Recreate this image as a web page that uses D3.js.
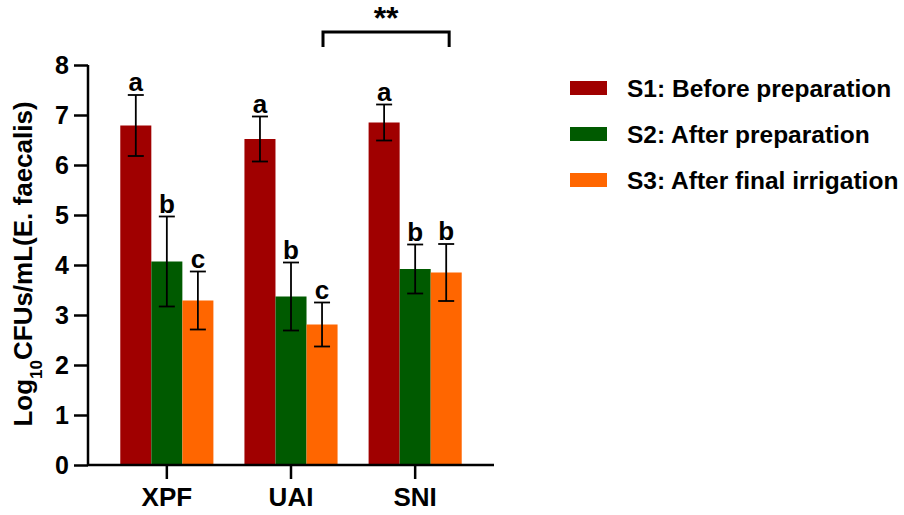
<!DOCTYPE html>
<html>
<head>
<meta charset="UTF-8">
<script src="https://d3js.org/d3.v7.min.js"></script>
<style>
  body { margin: 0; background: #fff; }
  text { font-family: "Liberation Sans", Arial, sans-serif; font-weight: bold; fill: #000; }
</style>
</head>
<body>
<svg id="chart" width="904" height="515"></svg>
<script>
// groups and series
const groups = ["XPF", "UAI", "SNI"];
const series = ["S1: Before preparation", "S2: After preparation", "S3: After final irrigation"];
const colors = ["#a00000", "#005a00", "#ff6600"];

// means and error (SD) per series, in group order
const s1Mean = [6.79, 6.52, 6.85];
const s2Mean = [4.07, 3.37, 3.92];
const s3Mean = [3.29, 2.81, 3.85];
const s1Err = [0.61, 0.45, 0.36];
const s2Err = [0.90, 0.68, 0.49];
const s3Err = [0.58, 0.44, 0.57];

// significance letters
const s1Letters = ["a", "a", "a"];
const s2Letters = ["b", "b", "b"];
const s3Letters = ["c", "c", "b"];

const yTicks = [0, 1, 2, 3, 4, 5, 6, 7, 8];

const means = [s1Mean, s2Mean, s3Mean];
const errs = [s1Err, s2Err, s3Err];
const letters = [s1Letters, s2Letters, s3Letters];

const data = [];
groups.forEach((g, gi) => {
    series.forEach((s, si) => {
        data.push({ group: g, series: s, idx: si, mean: means[si][gi], err: errs[si][gi], letter: letters[si][gi] });
    });
});

const svg = d3.select("#chart");

// scales
const y = d3.scaleLinear().domain([0, 8]).range([465, 65]);
const x0 = d3.scaleBand().domain(groups).range([88, 494]).paddingInner(0.25).paddingOuter(0.26);
const x1 = d3.scaleBand().domain(series).range([0, x0.bandwidth()]);
const color = d3.scaleOrdinal().domain(series).range(colors);

// bars
svg.append("g").selectAll("rect")
    .data(data)
    .join("rect")
    .attr("x", d => x0(d.group) + x1(d.series))
    .attr("y", d => y(d.mean))
    .attr("width", x1.bandwidth())
    .attr("height", d => y(0) - y(d.mean))
    .attr("fill", d => color(d.series));

// error bars
const eb = svg.append("g").attr("stroke", "#000").attr("stroke-width", 1.8);
const cx = d => x0(d.group) + x1(d.series) + x1.bandwidth() / 2;
eb.selectAll("line.v").data(data).join("line")
    .attr("class", "v")
    .attr("x1", cx).attr("x2", cx)
    .attr("y1", d => y(d.mean + d.err)).attr("y2", d => y(d.mean - d.err));
eb.selectAll("line.t").data(data).join("line")
    .attr("class", "t")
    .attr("x1", d => cx(d) - 8).attr("x2", d => cx(d) + 8)
    .attr("y1", d => y(d.mean + d.err)).attr("y2", d => y(d.mean + d.err));
eb.selectAll("line.b").data(data).join("line")
    .attr("class", "b")
    .attr("x1", d => cx(d) - 8).attr("x2", d => cx(d) + 8)
    .attr("y1", d => y(d.mean - d.err)).attr("y2", d => y(d.mean - d.err));

// letters
svg.append("g").selectAll("text")
    .data(data)
    .join("text")
    .attr("x", cx)
    .attr("y", d => y(d.mean + d.err) - 4)
    .attr("text-anchor", "middle")
    .style("font-size", "26px")
    .text(d => d.letter);

// axes
const yAxis = svg.append("g")
    .attr("transform", "translate(88,0)")
    .call(d3.axisLeft(y).tickValues(yTicks).tickSize(14).tickPadding(5));
const xAxis = svg.append("g")
    .attr("transform", "translate(0,465)")
    .call(d3.axisBottom(x0).tickSize(14).tickPadding(9));
[yAxis, xAxis].forEach(a => {
    a.select(".domain").attr("stroke", "#000").attr("stroke-width", 2.5);
    a.selectAll(".tick line").attr("stroke", "#000").attr("stroke-width", 2.5);
    a.selectAll(".tick text").style("font-family", "Liberation Sans, Arial, sans-serif").style("font-weight", "bold");
});
yAxis.selectAll(".tick text").style("font-size", "25px");
xAxis.selectAll(".tick text").style("font-size", "26px");
// x-axis domain without the outer ticks
xAxis.select(".domain").attr("d", "M88,0H494");
yAxis.select(".domain").attr("d", "M0,465V65");

// y-axis title
const yt = svg.append("text")
    .attr("transform", "translate(32,264) rotate(-90)")
    .attr("text-anchor", "middle")
    .style("font-size", "26px");
yt.append("tspan").text("Log");
yt.append("tspan").attr("baseline-shift", "sub").style("font-size", "17px").text("10");
yt.append("tspan").text("CFUs/mL(E. faecalis)");

// significance bracket between UAI and SNI
const bx1 = x0("UAI") + x0.bandwidth() / 2 + 32;
const bx2 = x0("SNI") + x0.bandwidth() / 2 + 34;
svg.append("path")
    .attr("d", `M${bx1},47V32H${bx2}V47`)
    .attr("fill", "none").attr("stroke", "#000").attr("stroke-width", 3);
svg.append("text")
    .attr("x", (bx1 + bx2) / 2).attr("y", 29)
    .attr("text-anchor", "middle")
    .style("font-size", "32px")
    .text("**");

// legend
const lg = svg.append("g").attr("transform", "translate(570,0)");
const ly = d3.scalePoint().domain(series).range([88, 180]);
lg.selectAll("rect").data(series).join("rect")
    .attr("x", 0).attr("y", d => ly(d) - 7)
    .attr("width", 37).attr("height", 14)
    .attr("fill", d => color(d));
lg.selectAll("text").data(series).join("text")
    .attr("x", 57).attr("y", d => ly(d) + 9)
    .style("font-size", "24.5px")
    .text(d => d);
</script>
</body>
</html>
